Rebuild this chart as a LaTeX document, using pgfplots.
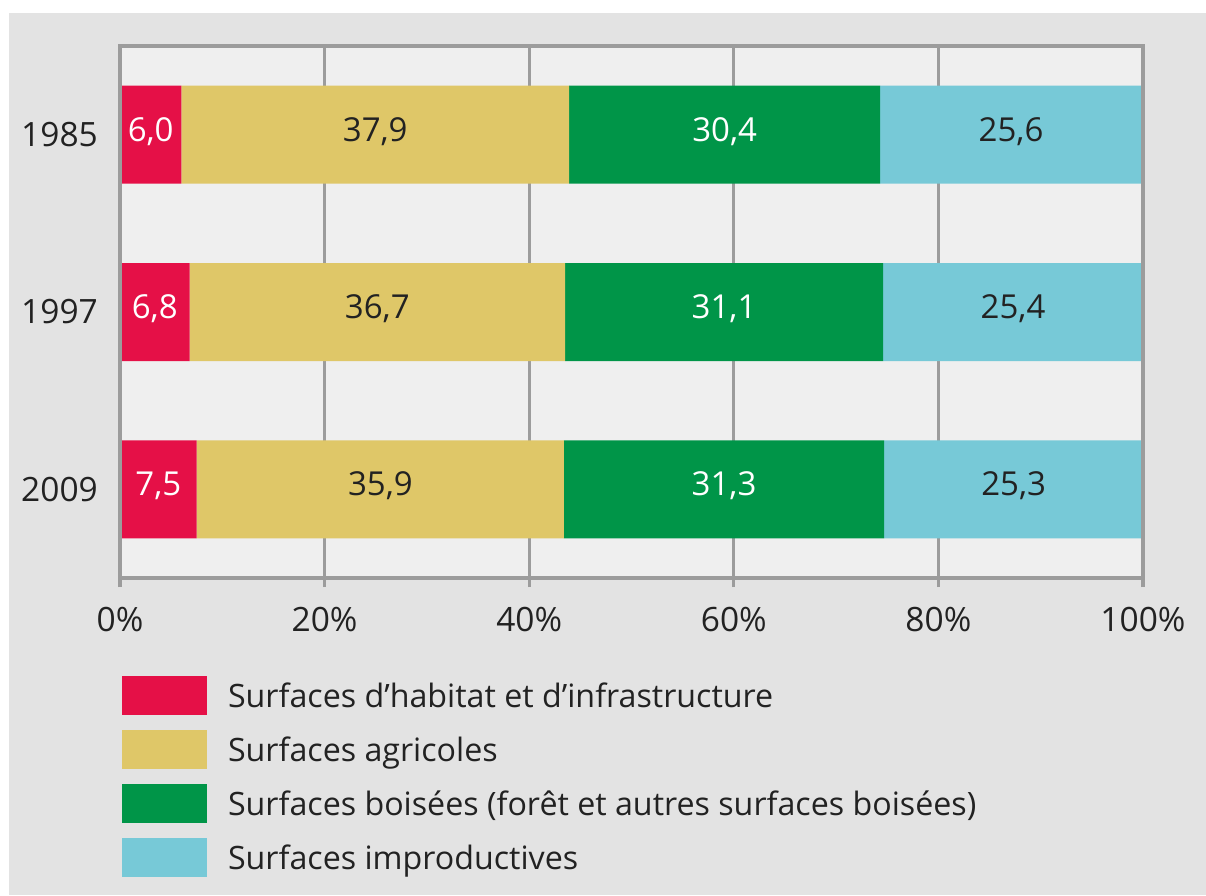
\documentclass[border=0pt]{standalone}
\usepackage{fontspec}
\setmainfont{Open Sans}
\usepackage{pgfplots}
\usepackage{pgfplotstable}
\pgfplotsset{compat=1.18}
\definecolor{cRed}{HTML}{E51047}
\definecolor{cYel}{HTML}{DFC768}
\definecolor{cGrn}{HTML}{009548}
\definecolor{cCya}{HTML}{77C9D7}
\definecolor{bgGray}{HTML}{E3E3E3}
\definecolor{plotBg}{HTML}{EFEFEF}
\definecolor{lineGray}{HTML}{9C9C9C}
\definecolor{txt}{HTML}{222222}
\pgfplotsset{mylegend/.style={legend image code/.code={\fill[##1] (0pt,-19.5pt) rectangle (85pt,19.5pt);}}}
\pgfplotstableread{
y a b c d
0 6.0 37.9 30.4 25.6
1 6.8 36.7 31.1 25.4
2 7.5 35.9 31.3 25.3
}\data
\begin{document}
\begin{tikzpicture}[x=1pt,y=1pt]
\useasboundingbox (0,0) rectangle (1206,895);
\fill[white] (0,0) rectangle (1206,895);
\fill[bgGray] (9,0) rectangle (1206,882);
\pgfplotsset{common/.style={
  scale only axis, width=1023pt, height=532pt,
  at={(120pt,317pt)}, anchor=south west,
  xmin=0, xmax=100, ymin=-0.5, ymax=2.5, y dir=reverse,
  axis line style={lineGray, line width=4pt},
}}
\begin{axis}[common,
  xbar stacked, bar width=98pt,
  axis background/.style={fill=plotBg},
  xtick={0,20,40,60,80,100},
  xticklabels={0\%,20\%,40\%,60\%,80\%,100\%},
  ytick={0,1,2}, yticklabels={1985,1997,2009},
  xmajorgrids, grid style={lineGray, line width=3.3pt},
  xtick pos=bottom, tick align=outside, major tick length=9pt,
  xtick style={lineGray, line width=3.3pt},
  ytick style={draw=none},
  ticklabel style={font=\fontsize{33.5}{40}\selectfont, text=txt, inner sep=0pt},
  xticklabel style={yshift=-20pt},
  yticklabel style={xshift=-13pt},
  legend style={at={(0.002,-0.184)}, anchor=north west, draw=none, fill=none,
    inner sep=0pt, outer sep=0pt, row sep=15pt, column sep=21pt,
    font=\fontsize{32.2}{38}\selectfont, text=txt,
    nodes={inner sep=0pt, text height=0.714em, text depth=0pt, yshift=-9pt}},
  legend cell align=left,
]
\addplot[fill=cRed, draw=none, mylegend] table[x=a, y=y] {\data};
\addplot[fill=cYel, draw=none, mylegend] table[x=b, y=y] {\data};
\addplot[fill=cGrn, draw=none, mylegend] table[x=c, y=y] {\data};
\addplot[fill=cCya, draw=none, mylegend] table[x=d, y=y] {\data};
\addlegendentry{Surfaces d’habitat et d’infrastructure}
\addlegendentry{Surfaces agricoles}
\addlegendentry{Surfaces boisées (forêt et autres surfaces boisées)}
\addlegendentry{Surfaces improductives}
\end{axis}
\begin{axis}[common,
  xtick=\empty, ytick=\empty,
  nodes near coords={\pgfmathprintnumber[fixed, fixed zerofill, precision=1, use comma, assume math mode=true]{\pgfplotspointmeta}},
  point meta=explicit,
  every node near coord/.append style={anchor=center, font=\fontsize{33}{40}\selectfont, inner sep=0pt, text height=0.714em, text depth=0pt, yshift=-3pt},
]
\addplot[only marks, mark=none, every node near coord/.append style={text=white}] table[x expr=\thisrow{a}/2, y=y, meta=a] {\data};
\addplot[only marks, mark=none, every node near coord/.append style={text=txt}] table[x expr=\thisrow{a}+\thisrow{b}/2, y=y, meta=b] {\data};
\addplot[only marks, mark=none, every node near coord/.append style={text=white}] table[x expr=\thisrow{a}+\thisrow{b}+\thisrow{c}/2, y=y, meta=c] {\data};
\addplot[only marks, mark=none, every node near coord/.append style={text=txt}] table[x expr=\thisrow{a}+\thisrow{b}+\thisrow{c}+\thisrow{d}/2, y=y, meta=d] {\data};
\end{axis}
\end{tikzpicture}
\end{document}
